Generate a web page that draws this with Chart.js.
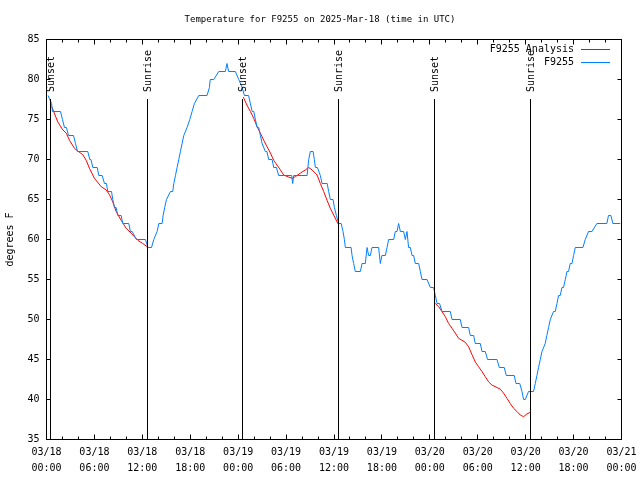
<!DOCTYPE html>
<html>
<head>
<meta charset="utf-8">
<script src="https://cdn.jsdelivr.net/npm/chart.js@4/dist/chart.umd.min.js"></script>
<style>
  html, body { margin: 0; padding: 0; background: #fff; }
  #c { display: block; }
</style>
</head>
<body>
<canvas id="c" width="640" height="480"></canvas>
<script>
// ---------- DATA ----------
const chartTitle = 'Temperature for F9255 on 2025-Mar-18 (time in UTC)';
const yAxisTitle = 'degrees F';
const seriesNames = ['F9255 Analysis', 'F9255'];

// x tick labels (every 6 hours from 03/18 00:00)
const xTickDates = ['03/18','03/18','03/18','03/18','03/19','03/19','03/19','03/19','03/20','03/20','03/20','03/20','03/21'];
const xTickTimes = ['00:00','06:00','12:00','18:00','00:00','06:00','12:00','18:00','00:00','06:00','12:00','18:00','00:00'];

// sun events (hours since 03/18 00:00 UTC)
const sunHours  = [0.54, 12.64, 24.57, 36.6, 48.6, 60.6];
const sunLabels = ['Sunset','Sunrise','Sunset','Sunrise','Sunset','Sunrise'];

// observed temperatures (hours since 03/18 00:00 UTC, deg F)
const obsHours = [
  0.2,0.63,0.75,1.75,2.0,2.25,2.5,2.75,3.38,3.63,3.88,5.17,5.42,5.57,5.8,6.35,6.55,6.97,7.26,7.51,
  7.67,8.14,8.3,8.51,8.72,8.92,9.35,9.55,10.3,10.51,10.73,11.26,12.39,12.7,13.15,13.43,13.85,14.06,14.48,14.6,
  14.8,15.02,15.52,15.81,15.94,16.15,16.35,16.56,16.77,16.98,17.19,17.6,17.94,18.23,18.52,19.07,20.1,20.4,20.5,20.94,
  21.57,22.4,22.6,22.8,23.65,24.07,24.5,24.78,25.3,25.53,25.75,25.95,26.16,26.37,26.57,26.78,27.0,27.4,27.6,27.82,
  28.25,28.45,28.79,29.07,30.7,30.83,30.95,32.63,32.83,33.04,33.38,33.54,33.67,33.92,34.29,34.5,35.15,35.33,35.54,35.88,
  36.05,36.3,36.58,36.9,37.13,37.3,37.42,38.14,38.26,38.46,38.67,39.3,39.51,39.92,40.14,40.34,40.55,40.76,41.59,41.8,
  42.0,42.43,42.64,42.84,43.47,43.68,43.89,44.09,44.31,44.72,44.93,45.14,45.34,45.56,45.77,45.97,46.18,46.6,46.81,47.02,
  47.65,48.06,48.47,48.69,48.9,49.22,49.52,50.56,50.78,51.81,52.03,52.85,53.07,53.48,53.69,54.32,54.53,54.94,55.23,56.41,
  56.7,57.32,57.57,58.57,58.79,59.26,59.54,59.74,59.95,60.36,60.99,61.2,61.41,61.61,61.83,62.04,62.45,62.65,62.87,63.08,
  63.49,63.7,63.92,64.12,64.33,64.54,64.74,64.96,65.17,65.37,65.58,65.8,66.0,66.21,67.17,67.46,67.87,68.3,68.92,70.17,
  70.37,70.67,70.92,71.84
];
const obsTemps = [
  78,77,76,76,75,74,74,73,73,72,71,71,70,70,69,69,68,68,67,67,
  66,66,65,64,64,63,63,62,62,61,61,60,60,59,59,60,61,62,62,63,
  64,65,66,66,67,68,69,70,71,72,73,74,75,76,77,78,78,79,80,80,
  81,81,82,81,81,80,79,78,78,77,76,76,75,74,74,73,72,71,71,70,
  70,69,69,68,68,67,68,68,70,71,71,70,69,69,68,67,67,66,65,65,
  64,63,62,62,61,60,59,59,58,57,56,56,57,57,59,58,58,59,59,57,
  58,58,59,60,60,61,61,62,61,61,60,61,59,59,58,58,57,57,56,55,
  55,54,54,53,52,52,51,51,50,50,49,49,48,48,47,47,46,46,45,45,
  44,44,43,43,42,42,41,40,40,41,41,42,43,44,45,46,47,48,49,50,
  51,51,52,53,53,54,54,55,56,56,57,57,58,59,59,60,61,61,62,62,
  63,63,62,62
];

// analysis temperatures (night-time segments, null = gap)
const anaHours = [
  0.66,1.41,2.04,2.47,2.88,3.5,3.92,4.54,4.97,5.38,6.0,6.85,7.47,7.88,8.3,8.72,9.35,9.97,10.6,11.43,12.05,12.6,
  18.0,
  24.65,25.1,25.53,25.95,26.37,26.78,27.2,27.62,28.04,28.45,28.87,29.29,29.7,30.33,30.75,31.16,31.79,32.42,32.83,33.25,33.88,34.29,34.71,35.13,35.54,35.96,36.38,36.6,
  42.0,
  48.69,49.1,49.52,49.94,50.35,50.78,51.19,51.6,52.03,52.44,52.85,53.28,53.69,54.1,54.53,54.94,55.36,55.78,56.41,56.82,57.23,57.66,58.07,58.49,58.91,59.32,59.74,60.16,60.58
];
const anaTemps = [
  76.6,74.7,73.7,73.3,72.4,71.4,71.06,70.6,69.9,68.9,67.65,66.6,66.2,65.6,64.7,63.5,62.4,61.4,60.8,59.9,59.5,59.1,
  null,
  77.8,76.8,76.0,75.15,74.1,73.3,72.4,71.6,70.8,69.9,69.3,68.7,68.06,67.8,67.65,67.85,68.3,68.7,69.0,68.7,68.06,67.0,66.0,64.9,63.9,63.06,62.2,61.8,
  null,
  52.0,51.6,51.0,50.35,49.5,48.9,48.3,47.65,47.4,47.15,46.6,45.6,44.7,44.1,43.5,42.85,42.2,41.8,41.5,41.3,40.8,40.15,39.5,38.9,38.5,38.06,37.85,38.2,38.4
];

const xMin = 0, xMax = 72, xMajorStep = 6, xMinorStep = 2;
const yMin = 35, yMax = 85, yStep = 5;

// ---------- STYLE ----------
const FONT = "'DejaVu Sans Mono', 'Liberation Mono', monospace";
const FONT_SIZE = 10;
const TITLE_SIZE = 9;
const RED = '#ff0000';
const BLUE = '#0080ff';

const toPts = (xs, ys) => xs.map((h, i) => ({ x: h, y: ys[i] }));

const framePlugin = {
  id: 'gnuplotFrame',
  afterDatasetsDraw(chart) {
    const { ctx, chartArea: a, scales: { x, y } } = chart;
    ctx.save();
    ctx.strokeStyle = '#000';
    ctx.lineWidth = 1;
    const L = a.left, R = a.right, T = a.top, B = a.bottom;
    // ticks
    ctx.beginPath();
    for (let v = xMin; v <= xMax + 1e-9; v += xMinorStep) {
      const px = Math.round(x.getPixelForValue(v) - 0.5) + 0.5;
      const len = (Math.abs(v % xMajorStep) < 1e-9) ? 5 : 3;
      ctx.moveTo(px, B); ctx.lineTo(px, B - len);
      ctx.moveTo(px, T); ctx.lineTo(px, T + len);
    }
    for (let v = yMin; v <= yMax + 1e-9; v += yStep) {
      const py = Math.round(y.getPixelForValue(v) - 0.5) + 0.5;
      ctx.moveTo(L, py); ctx.lineTo(L + 4, py);
      ctx.moveTo(R, py); ctx.lineTo(R - 4, py);
    }
    ctx.stroke();
    // sun event lines
    ctx.beginPath();
    sunHours.forEach((h) => {
      const px = Math.round(x.getPixelForValue(h) - 0.5) + 0.5;
      ctx.moveTo(px, 99); ctx.lineTo(px, B);
    });
    ctx.stroke();
    // border
    ctx.strokeRect(L, T, R - L, B - T);
    // sun labels
    ctx.fillStyle = '#000';
    ctx.font = FONT_SIZE + 'px ' + FONT;
    sunHours.forEach((h, i) => {
      const px = Math.round(x.getPixelForValue(h) - 0.5) + 1.5;
      ctx.save();
      ctx.translate(px, 92);
      ctx.rotate(-Math.PI / 2);
      ctx.textAlign = 'left';
      ctx.textBaseline = 'middle';
      ctx.fillText(sunLabels[i], 0, 0);
      ctx.restore();
    });
    // legend
    ctx.textAlign = 'right';
    ctx.textBaseline = 'middle';
    const legendColors = [RED, BLUE];
    seriesNames.forEach((name, i) => {
      const ly = 49.5 + i * 13;
      ctx.fillStyle = '#000';
      ctx.fillText(name, 574, ly);
      ctx.strokeStyle = legendColors[i];
      ctx.beginPath();
      ctx.moveTo(581, ly); ctx.lineTo(610, ly);
      ctx.stroke();
    });
    // title
    ctx.fillStyle = '#000';
    ctx.font = TITLE_SIZE + 'px ' + FONT;
    ctx.textAlign = 'center';
    ctx.fillText(chartTitle, 320, 19.5);
    ctx.restore();
  }
};

new Chart(document.getElementById('c'), {
  type: 'line',
  data: {
    datasets: [
      {
        label: seriesNames[1],
        data: toPts(obsHours, obsTemps),
        borderColor: BLUE,
        borderWidth: 1,
        pointRadius: 0,
        tension: 0,
        fill: false
      },
      {
        label: seriesNames[0],
        data: toPts(anaHours, anaTemps),
        borderColor: RED,
        borderWidth: 1,
        pointRadius: 0,
        tension: 0,
        spanGaps: false,
        fill: false
      }
    ]
  },
  plugins: [framePlugin],
  options: {
    responsive: false,
    animation: false,
    devicePixelRatio: 1,
    layout: { padding: { left: 0, right: 18.5, top: 39.5, bottom: 0 } },
    plugins: {
      legend: { display: false },
      tooltip: { enabled: false },
      title: { display: false }
    },
    scales: {
      x: {
        type: 'linear',
        min: xMin,
        max: xMax,
        grid: { display: false, drawTicks: false },
        border: { display: false },
        afterBuildTicks(scale) {
          const t = [];
          for (let v = xMin; v <= xMax; v += xMajorStep) t.push({ value: v });
          scale.ticks = t;
        },
        ticks: {
          autoSkip: false,
          maxRotation: 0,
          minRotation: 0,
          padding: 5,
          color: '#000',
          font: { family: FONT, size: FONT_SIZE, lineHeight: 1.6 },
          callback: (v) => {
            const i = Math.round(v / xMajorStep);
            return [xTickDates[i], xTickTimes[i]];
          }
        },
        afterFit(scale) {
          scale.height = 40.5;
          scale.paddingLeft = 0;
          scale.paddingRight = 0;
        }
      },
      y: {
        min: yMin,
        max: yMax,
        grid: { display: false, drawTicks: false },
        border: { display: false },
        ticks: {
          stepSize: yStep,
          padding: 7,
          color: '#000',
          font: { family: FONT, size: FONT_SIZE }
        },
        title: {
          display: true,
          text: yAxisTitle,
          color: '#000',
          font: { family: FONT, size: FONT_SIZE },
          padding: { top: 4, bottom: 0 }
        },
        afterFit(scale) {
          scale.width = 46.5;
          scale.paddingTop = 0;
          scale.paddingBottom = 0;
        }
      }
    }
  }
});
</script>
</body>
</html>
